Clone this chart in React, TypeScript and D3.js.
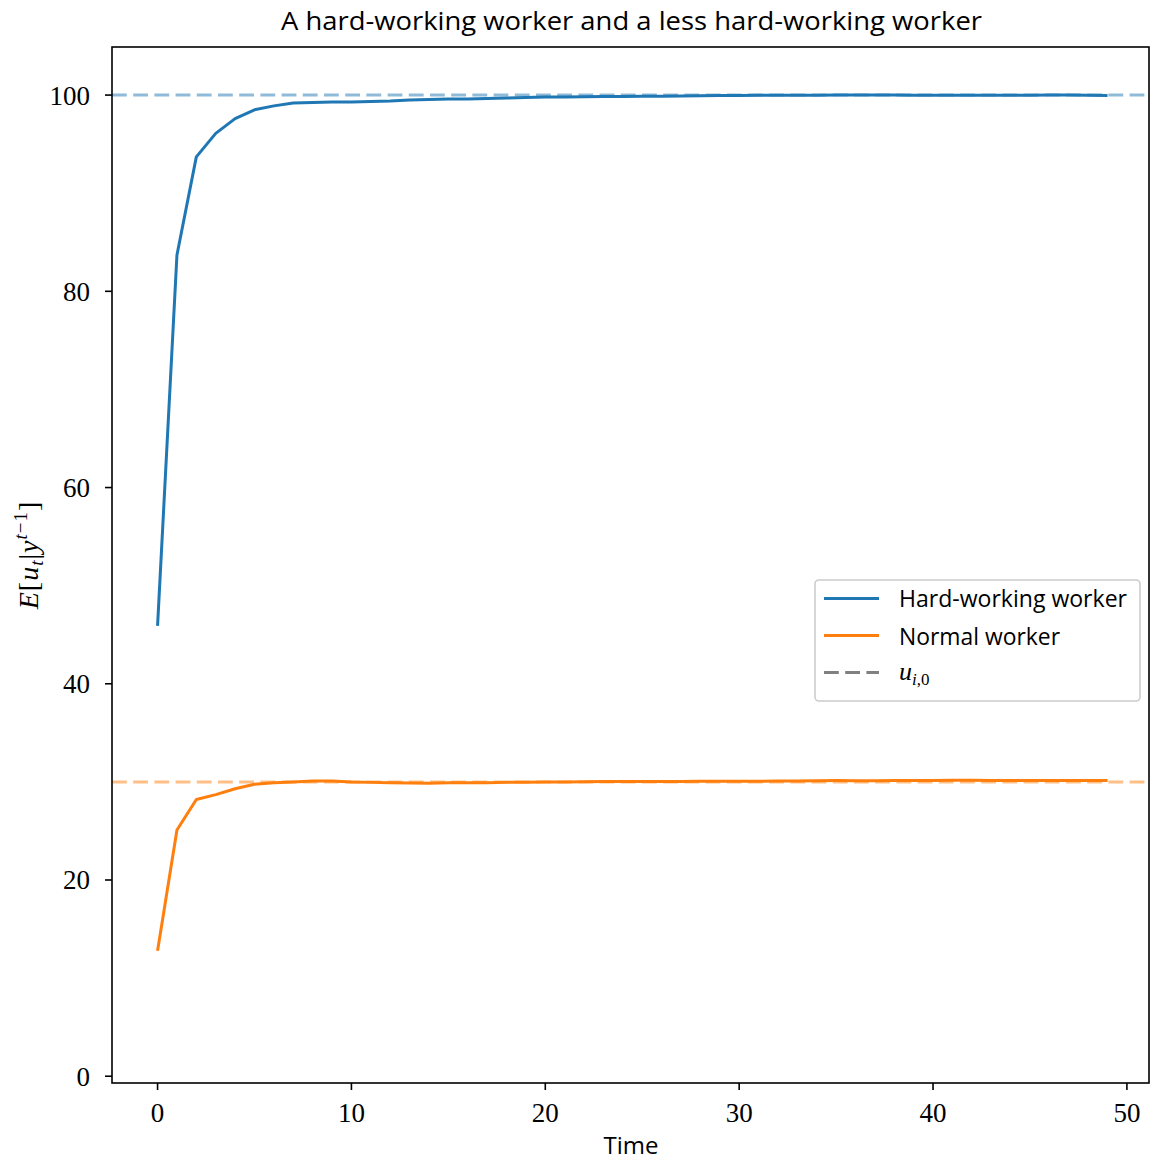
import React from "react";
import * as d3 from "d3";

const timeSteps: number[] = Array.from({ length: 50 }, (_, i) => i);
const hardWorking: number[] = [45.9, 83.7, 93.7, 96.1, 97.6, 98.5, 98.9, 99.2, 99.25, 99.3, 99.3, 99.35, 99.4, 99.5, 99.55, 99.6, 99.6, 99.65, 99.7, 99.75, 99.8, 99.8, 99.82, 99.85, 99.85, 99.87, 99.88, 99.9, 99.92, 99.95, 99.96, 99.97, 99.98, 99.98, 99.99, 100.0, 100.0, 100.0, 100.0, 99.99, 99.98, 99.98, 99.97, 99.97, 99.98, 99.99, 100.0, 100.0, 99.97, 99.95];
const normalWorker: number[] = [12.8, 25.1, 28.2, 28.7, 29.3, 29.75, 29.9, 30.0, 30.1, 30.1, 30.0, 29.95, 29.9, 29.88, 29.87, 29.9, 29.9, 29.92, 29.95, 29.97, 30.0, 30.0, 30.02, 30.03, 30.03, 30.04, 30.05, 30.05, 30.06, 30.06, 30.06, 30.07, 30.08, 30.1, 30.12, 30.13, 30.12, 30.12, 30.13, 30.14, 30.15, 30.16, 30.16, 30.15, 30.15, 30.14, 30.14, 30.14, 30.14, 30.14];
const trueValues: number[] = [100, 30];
const xTicks: number[] = [0, 10, 20, 30, 40, 50];
const yTicks: number[] = [0, 20, 40, 60, 80, 100];
const legendLabels: string[] = ["Hard-working worker", "Normal worker"];

const BLUE = "#1f77b4";
const ORANGE = "#ff7f0e";

export default function App() {
  const left = 112, right = 1149, top = 47, bottom = 1083;
  const x = d3.scaleLinear().domain([-2.35, 51.14]).range([left, right]);
  const y = d3.scaleLinear().domain([-0.69, 104.9]).range([bottom, top]);
  const line = d3.line<number>().x((_, i) => x(timeSteps[i])).y((d) => y(d));
  const serif = "'Liberation Serif', 'DejaVu Serif', serif";
  const sans = "'Open Sans', 'DejaVu Sans', sans-serif";
  const colors = [BLUE, ORANGE];
  const legendWidths = [228, 161];
  return (
    <svg width={1151} height={1162} style={{ position: "absolute", left: 0, top: 0, background: "#fff" }}>
      <rect x={0} y={0} width={1151} height={1162} fill="#fff" />
      <text x={281} y={30} fontFamily={sans} fontSize={26} fill="#000" textLength={701} lengthAdjust="spacingAndGlyphs">
        A hard-working worker and a less hard-working worker
      </text>
      <defs>
        <clipPath id="plotclip">
          <rect x={left} y={top} width={right - left} height={bottom - top} />
        </clipPath>
      </defs>
      <g clipPath="url(#plotclip)">
        {trueValues.map((v, i) => (
          <line key={i} x1={left} x2={right} y1={y(v)} y2={y(v)} stroke={colors[i]} strokeOpacity={0.5} strokeWidth={3} strokeDasharray="14.8 6.4" />
        ))}
        <path d={line(hardWorking) || ""} fill="none" stroke={BLUE} strokeWidth={3} strokeLinejoin="round" />
        <path d={line(normalWorker) || ""} fill="none" stroke={ORANGE} strokeWidth={3} strokeLinejoin="round" />
      </g>
      <rect x={left} y={top} width={right - left} height={bottom - top} fill="none" stroke="#000" strokeWidth={1.6} />
      {xTicks.map((t) => (
        <g key={t}>
          <line x1={x(t)} x2={x(t)} y1={bottom} y2={bottom + 7} stroke="#000" strokeWidth={1.6} />
          <text x={x(t)} y={bottom + 39} textAnchor="middle" fontFamily={serif} fontSize={27} fill="#000">{t}</text>
        </g>
      ))}
      {yTicks.map((t) => (
        <g key={t}>
          <line x1={left - 7} x2={left} y1={y(t)} y2={y(t)} stroke="#000" strokeWidth={1.6} />
          <text x={left - 22} y={y(t) + 9.5} textAnchor="end" fontFamily={serif} fontSize={27} fill="#000">{t}</text>
        </g>
      ))}
      <text x={631} y={1154} textAnchor="middle" fontFamily={sans} fontSize={24} fill="#000">Time</text>
      <text transform="translate(38,555) rotate(-90)" textAnchor="middle" fontFamily={serif} fontSize={28} fill="#000" letterSpacing={1}>
        <tspan fontStyle="italic">E</tspan>
        <tspan>[</tspan>
        <tspan fontStyle="italic">u</tspan>
        <tspan fontStyle="italic" fontSize={19} dy={5}>t</tspan>
        <tspan dy={-5}>|</tspan>
        <tspan fontStyle="italic">y</tspan>
        <tspan fontStyle="italic" fontSize={19} dy={-11}>t</tspan>
        <tspan fontSize={19}>−1</tspan>
        <tspan dy={11}>]</tspan>
      </text>
      <g>
        <rect x={815} y={580} width={325} height={121} rx={4} fill="#fff" fillOpacity={0.8} stroke="#cccccc" strokeWidth={1.6} />
        {legendLabels.map((lab, i) => (
          <g key={lab}>
            <line x1={824} x2={879} y1={598.5 + i * 37} y2={598.5 + i * 37} stroke={colors[i]} strokeWidth={3} />
            <text x={899} y={607 + i * 38} fontFamily={sans} fontSize={24} fill="#000" textLength={legendWidths[i]} lengthAdjust="spacingAndGlyphs">{lab}</text>
          </g>
        ))}
        <line x1={824} x2={879} y1={672.5} y2={672.5} stroke="#808080" strokeWidth={3} strokeDasharray="14.8 6.4" />
        <text x={899} y={680} fontFamily={serif} fontSize={26} fill="#000">
          <tspan fontStyle="italic">u</tspan>
          <tspan fontStyle="italic" fontSize={17} dy={5}>i</tspan>
          <tspan fontSize={17}>,0</tspan>
        </text>
      </g>
    </svg>
  );
}
